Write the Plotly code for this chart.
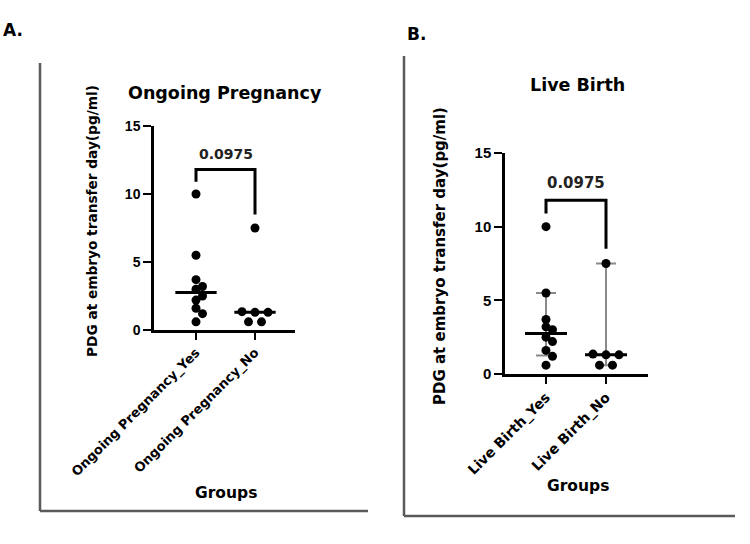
import numpy as np
import plotly.graph_objects as go

W, H = 750, 544

# ---------------- data ----------------
categories_a = ["Ongoing Pregnancy_Yes", "Ongoing Pregnancy_No"]
categories_b = ["Live Birth_Yes", "Live Birth_No"]
pdg_yes = [10.0, 5.5, 3.7, 3.2, 3.0, 2.5, 2.2, 1.6, 1.2, 0.6]
pdg_no = [7.5, 1.35, 1.3, 1.3, 0.6, 0.6]
ci_low_b = [1.25, 0.6]
ci_high_b = [5.5, 7.5]
p_value = "0.0975"
y_ticks = [0, 5, 10, 15]
y_max = 15

FONT = "DejaVu Sans"
NUMFONT = "Liberation Sans"

# ---------------- layout geometry (pixels) ----------------
panels = [
    dict(name="A", cats=categories_a, title="Ongoing Pregnancy", ax_x0=154, ax_x1=295,
         c0=196, c1=255, y0=330, ytop=126, errbars=False, s=1.0,
         title_xy=(225, 93), ytitle_xy=(92, 221), groups_xy=(226, 493), label_xy=(13, 30),
         frame=dict(x=40, ytop=63, ybot=511, xright=368)),
    dict(name="B", cats=categories_b, title="Live Birth", ax_x0=505, ax_x1=648,
         c0=546, c1=606, y0=374, ytop=153, errbars=True, s=1.07,
         title_xy=(577, 85), ytitle_xy=(440, 256), groups_xy=(578, 486), label_xy=(416, 34),
         frame=dict(x=404, ytop=56, ybot=516, xright=735)),
]


def swarm(vals, ppu_y, step_px=6.5, d_px=7.0, tie=0.1):
    """Simple deterministic beeswarm (offsets in pixels)."""
    vals = np.asarray(vals, dtype=float)
    order = list(np.argsort(-vals, kind="stable"))
    placed = []
    offs = np.zeros(len(vals))
    done = set()
    for i in order:
        if i in done:
            continue
        row = [j for j in order if j not in done and abs(vals[j] - vals[i]) < tie]
        if len(row) > 1:
            n = len(row)
            for r, j in enumerate(row):
                x = (r - (n - 1) / 2) * 2 * step_px
                offs[j] = x
                placed.append((x, vals[j] * ppu_y))
                done.add(j)
            continue
        y = vals[i] * ppu_y
        x = 0.0
        for c in [0, 1, -1, 2, -2, 3, -3]:
            x = c * step_px
            if all((x - px) ** 2 + (y - py) ** 2 >= d_px ** 2 for px, py in placed):
                break
        placed.append((x, y))
        offs[i] = x
        done.add(i)
    return offs


fig = go.Figure()
layout = dict(width=W, height=H, margin=dict(l=0, r=0, t=0, b=0, pad=0), autosize=False,
              paper_bgcolor="white", plot_bgcolor="white", showlegend=False,
              template="none")
annotations = []
shapes = []
groups = [pdg_yes, pdg_no]

for k, p in enumerate(panels):
    sfx = "" if k == 0 else str(k + 1)
    xa, ya = "x" + sfx, "y" + sfx
    s = p["s"]
    unit = p["c1"] - p["c0"]
    r0 = -(p["c0"] - p["ax_x0"]) / unit
    r1 = 1 + (p["ax_x1"] - p["c1"]) / unit
    ppu_y = (p["y0"] - p["ytop"]) / y_max

    layout["xaxis" + sfx] = dict(
        domain=[p["ax_x0"] / W, p["ax_x1"] / W], range=[r0, r1], anchor=ya,
        tickvals=[0, 1], ticktext=p["cats"], tickangle=-45,
        tickfont=dict(family=FONT, size=13 * s, color="black", weight="bold"),
        showline=True, linecolor="black", linewidth=2.5, ticks="outside", ticklen=7,
        tickwidth=2, tickcolor="black", showgrid=False, zeroline=False, fixedrange=True,
        automargin=False)
    layout["yaxis" + sfx] = dict(
        domain=[1 - p["y0"] / H, 1 - p["ytop"] / H], range=[0, y_max], anchor=xa,
        tickvals=y_ticks,
        tickfont=dict(family=NUMFONT, size=14 * s, color="black", weight="bold"),
        showline=True, linecolor="black", linewidth=2.5, ticks="outside", ticklen=8,
        tickwidth=2, tickcolor="black", showgrid=False, zeroline=False, fixedrange=True,
        automargin=False)

    medians = [float(np.median(g)) for g in groups]

    if p["errbars"]:
        fig.add_trace(go.Scatter(
            x=[0, 1], y=medians, mode="markers", xaxis=xa, yaxis=ya,
            marker=dict(size=1, color="rgba(0,0,0,0)"),
            error_y=dict(type="data", symmetric=False,
                         array=[h - m for h, m in zip(ci_high_b, medians)],
                         arrayminus=[m - l for l, m in zip(ci_low_b, medians)],
                         color="#8a8a8a", thickness=2, width=10),
            hoverinfo="skip"))

    for gi, g in enumerate(groups):
        offs = swarm(g, ppu_y) / unit
        fig.add_trace(go.Scatter(
            x=[gi + o for o in offs], y=g, mode="markers", xaxis=xa, yaxis=ya,
            marker=dict(color="black", size=9, line=dict(width=0)), cliponaxis=False))
        fig.add_trace(go.Scatter(
            x=[gi - 0.35, gi + 0.35], y=[medians[gi], medians[gi]], mode="lines",
            xaxis=xa, yaxis=ya, line=dict(color="black", width=3), cliponaxis=False))

    # significance bracket
    fig.add_trace(go.Scatter(
        x=[0, 0, 1, 1], y=[10.9, 11.8, 11.8, 8.5], mode="lines", xaxis=xa, yaxis=ya,
        line=dict(color="black", width=3), cliponaxis=False))
    annotations.append(dict(x=0.5, y=12.95, xref=xa, yref=ya, text=p_value, showarrow=False,
                            font=dict(family=FONT, size=14 * s, color="#222", weight="bold"),
                            xanchor="center", yanchor="middle"))

    def px(xy):
        return xy[0] / W, 1 - xy[1] / H

    tx, ty = px(p["title_xy"])
    annotations.append(dict(x=tx, y=ty, xref="paper", yref="paper", text=p["title"],
                            showarrow=False, xanchor="center", yanchor="middle",
                            font=dict(family=FONT, size=17.5, color="black", weight="bold")))
    tx, ty = px(p["ytitle_xy"])
    annotations.append(dict(x=tx, y=ty, xref="paper", yref="paper",
                            text="PDG at embryo transfer day(pg/ml)", textangle=-90,
                            showarrow=False, xanchor="center", yanchor="middle",
                            font=dict(family=FONT, size=13.7 if k == 0 else 15,
                                      color="black", weight="bold")))
    tx, ty = px(p["groups_xy"])
    annotations.append(dict(x=tx, y=ty, xref="paper", yref="paper", text="Groups",
                            showarrow=False, xanchor="center", yanchor="middle",
                            font=dict(family=FONT, size=15.5, color="black", weight="bold")))
    tx, ty = px(p["label_xy"])
    annotations.append(dict(x=tx, y=ty, xref="paper", yref="paper", text=p["name"] + ".",
                            showarrow=False, xanchor="center", yanchor="middle",
                            font=dict(family=FONT, size=17, color="black", weight="bold")))

    f = p["frame"]
    shapes.append(dict(type="line", xref="paper", yref="paper",
                       x0=f["x"] / W, x1=f["x"] / W, y0=1 - f["ytop"] / H, y1=1 - f["ybot"] / H,
                       line=dict(color="#5a5a5a", width=2.5)))
    shapes.append(dict(type="line", xref="paper", yref="paper",
                       x0=f["x"] / W, x1=f["xright"] / W, y0=1 - f["ybot"] / H, y1=1 - f["ybot"] / H,
                       line=dict(color="#5a5a5a", width=2.5)))

layout["annotations"] = annotations
layout["shapes"] = shapes
fig.update_layout(**layout)
fig.write_html("out.html")
